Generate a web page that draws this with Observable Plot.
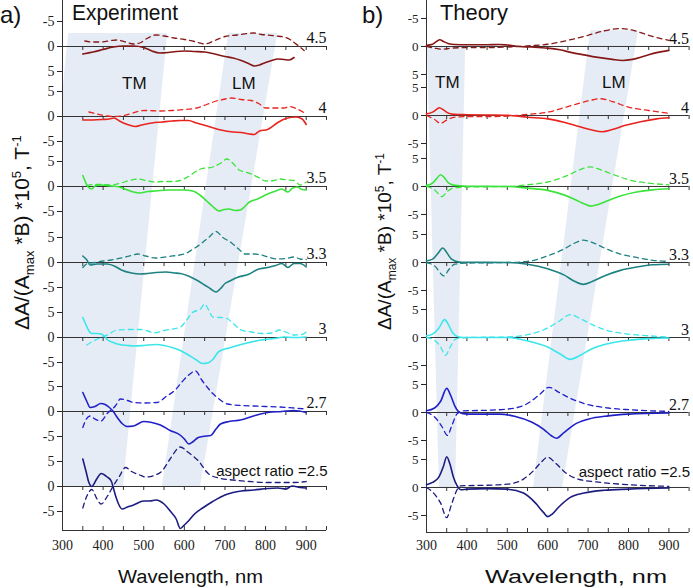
<!DOCTYPE html>
<html><head><meta charset="utf-8">
<script src="https://cdn.jsdelivr.net/npm/d3@7"></script>
<script src="https://cdn.jsdelivr.net/npm/@observablehq/plot@0.6"></script>
<style>
body{margin:0;background:#fff;}
#wrap{position:relative;width:693px;height:588px;overflow:hidden;background:#fff;}
#left{position:absolute;left:0;top:0;}
#right{position:absolute;left:345px;top:0;}
#over{position:absolute;left:0;top:0;pointer-events:none;}
</style></head>
<body><div id="wrap"><div id="left"></div><div id="right"></div>
<svg id="over" width="693" height="588" font-family="'Liberation Sans', Arial, sans-serif" fill="#111">
  <text x="0" y="23" font-size="24">a)</text>
  <text x="72" y="20" font-size="22" textLength="106" lengthAdjust="spacingAndGlyphs">Experiment</text>
  <text x="362" y="23" font-size="24">b)</text>
  <text x="440" y="20" font-size="22" textLength="68" lengthAdjust="spacingAndGlyphs">Theory</text>
  <text x="122" y="89" font-size="17">TM</text>
  <text x="232" y="89" font-size="17">LM</text>
  <text x="435" y="88" font-size="17">TM</text>
  <text x="602" y="88" font-size="17">LM</text>
  <text x="118" y="583" font-size="18" textLength="145" lengthAdjust="spacingAndGlyphs">Wavelength, nm</text>
  <text x="485" y="583" font-size="18" textLength="182" lengthAdjust="spacingAndGlyphs">Wavelength, nm</text>
  <text transform="translate(29,330) rotate(-90)" font-size="21">ΔA/(A<tspan font-size="13" dy="5">max</tspan><tspan dy="-5"> *B) *10</tspan><tspan font-size="13" dy="-8">5</tspan><tspan dy="8">, T</tspan><tspan font-size="13" dy="-8">-1</tspan></text>
  <text transform="translate(391,330) rotate(-90)" font-size="19">ΔA/(A<tspan font-size="12" dy="5">max</tspan><tspan dy="-5"> *B) *10</tspan><tspan font-size="12" dy="-7">5</tspan><tspan dy="7">, T</tspan><tspan font-size="12" dy="-7">-1</tspan></text>
</svg></div>
<script>
// ---- categories / labels ----
const ratios = ["4.5", "4", "3.5", "3.3", "3", "2.7", "2.5"];
const colors = ["#861717", "#e8241e", "#3be43b", "#1e8282", "#3ae6ea", "#2020c8", "#1c1c80"];
const xTickLabels = [300, 400, 500, 600, 700, 800, 900];
const yTickLabels = [["-5","0","5"],["5","0","-5"],["5","0","-5"],["5","0","-5"],["5","0","-5"],["5","0","-5"],["5","0","-5"]];

// ---- Experiment data [wavelength nm, value] ----
const exp45Solid = [[350,-1.5],[375,-1.1],[400,-0.6],[425,-0.1],[450,0.1],[475,0.1],[500,-0.2],[520,-0.9],[540,-1.3],[560,-1.2],[580,-1.0],[600,-0.9],[625,-1.0],[650,-1.1],[675,-1.5],[700,-2.0],[720,-2.3],[740,-2.8],[760,-3.5],[772,-3.9],[785,-3.7],[800,-3.2],[815,-2.8],[830,-2.5],[845,-2.6],[858,-2.7],[870,-2.2]];
const exp45Dash = [[355,1.1],[375,0.9],[395,0.9],[420,1.2],[435,1.3],[455,0.9],[475,0.5],[490,0.7],[510,1.7],[530,2.3],[550,2.1],[575,1.7],[600,1.4],[625,1.0],[650,0.5],[675,1.2],[700,2.0],[730,2.3],[755,2.6],[770,2.7],[790,2.4],[805,2.3],[825,2.1],[845,1.9],[860,1.4],[875,0.5],[895,-0.8]];
const exp4Solid = [[350,-0.7],[375,-0.7],[400,-0.6],[415,-0.5],[427,-0.3],[440,-0.9],[460,-1.6],[478,-2.0],[495,-1.7],[520,-1.3],[545,-1.1],[570,-0.9],[590,-0.8],[610,-0.8],[630,-1.3],[660,-2.0],[690,-2.7],[720,-3.1],[740,-3.2],[760,-3.5],[772,-3.6],[785,-2.9],[805,-2.6],[830,-1.2],[850,-0.4],[875,-0.1],[890,-0.5],[900,-1.6]];
const exp4Dash = [[365,0.9],[385,0.5],[410,0.1],[430,0.0],[450,0.2],[470,0.6],[490,1.1],[505,1.2],[540,1.1],[570,1.2],[600,1.4],[630,1.7],[655,2.4],[675,3.0],[700,3.5],[715,3.7],[740,3.4],[765,3.2],[785,2.5],[800,1.7],[825,1.7],[845,1.7],[860,2.0],[875,1.6],[900,0.5]];
const exp35Solid = [[350,2.2],[356,1.0],[362,0.0],[372,-0.5],[380,0.1],[395,0.3],[420,0.1],[440,-0.1],[460,-0.7],[475,-1.1],[490,-1.3],[510,-1.0],[530,-0.9],[560,-0.7],[580,-0.7],[600,-0.7],[620,-0.9],[640,-1.8],[655,-2.9],[670,-4.0],[685,-4.9],[698,-4.6],[710,-4.5],[725,-4.8],[738,-4.7],[750,-3.9],[760,-3.1],[780,-2.5],[805,-1.5],[825,-0.9],[840,-0.5],[855,-1.1],[865,-0.4],[878,-0.1],[890,-0.6],[900,-0.7]];
const exp35Dash = [[360,0.2],[380,0.4],[400,0.4],[420,0.3],[440,0.6],[465,1.2],[485,1.5],[505,1.2],[525,0.9],[550,1.0],[570,1.0],[590,1.2],[610,2.0],[640,3.5],[670,3.9],[690,4.7],[705,5.5],[720,4.6],[735,3.3],[750,2.9],[765,2.5],[785,1.7],[800,1.1],[820,1.2],[835,1.5],[855,1.3],[870,1.2],[885,0.3],[900,0.9]];
const exp33Solid = [[350,1.3],[360,0.5],[368,-0.5],[385,-0.3],[410,-0.3],[430,-0.8],[445,-1.5],[470,-2.1],[490,-2.3],[510,-2.2],[530,-2.0],[555,-1.9],[575,-2.1],[590,-2.2],[610,-2.7],[630,-3.5],[650,-4.5],[665,-5.3],[678,-5.9],[688,-5.3],[700,-4.2],[712,-3.7],[730,-3.0],[760,-2.3],[780,-1.4],[805,-1.0],[825,-0.6],[840,-0.2],[855,-1.0],[870,-0.2],[885,-0.2],[900,-0.9]];
const exp33Dash = [[350,-1.0],[362,-0.2],[380,0.0],[400,0.3],[420,0.5],[450,1.0],[470,1.4],[485,1.7],[505,1.3],[530,0.9],[560,1.2],[600,1.7],[620,2.6],[640,3.7],[660,5.0],[678,6.2],[695,5.0],[715,4.0],[735,2.6],[750,1.7],[770,1.7],[790,1.5],[810,1.0],[830,0.7],[850,0.8],[870,1.1],[885,0.7],[900,0.6]];
const exp3Solid = [[350,4.0],[358,2.5],[366,1.2],[372,0.8],[385,0.8],[395,0.7],[405,0.1],[410,-0.4],[425,-1.0],[440,-1.4],[460,-1.6],[475,-1.7],[500,-1.6],[530,-1.4],[550,-1.6],[570,-2.0],[590,-2.6],[610,-3.5],[628,-4.4],[645,-5.2],[658,-5.1],[670,-4.4],[685,-2.8],[710,-2.1],[735,-1.5],[760,-1.0],[790,-0.5],[800,-0.4],[830,-0.1],[845,0.1],[870,0.0],[900,0.1]];
const exp3Dash = [[360,-1.5],[378,-0.6],[395,0.0],[410,0.5],[435,1.5],[460,1.6],[490,1.6],[510,1.3],[525,0.9],[550,1.4],[590,2.1],[605,3.4],[620,5.0],[640,5.7],[650,6.7],[660,5.5],[670,4.1],[690,4.0],[705,3.8],[720,2.8],[740,1.5],[765,1.1],[790,0.8],[815,0.9],[835,1.5],[855,0.9],[870,0.5],[890,0.6],[900,1.1]];
const exp27Solid = [[350,3.8],[360,2.0],[368,0.8],[380,1.0],[394,1.6],[405,1.4],[414,0.9],[425,0.0],[435,-1.2],[448,-2.5],[459,-3.0],[475,-2.9],[500,-2.0],[520,-2.2],[541,-2.7],[565,-3.8],[591,-4.8],[600,-5.5],[611,-6.5],[622,-6.0],[632,-5.3],[645,-5.0],[665,-4.8],[677,-3.6],[689,-2.5],[710,-2.0],[738,-1.7],[770,-0.9],[805,-0.2],[840,0.0],[870,0.2],[900,-0.2]];
const exp27Dash = [[350,-3.2],[358,-1.6],[368,-0.9],[380,-1.5],[395,-1.9],[410,-0.4],[430,1.1],[443,2.5],[460,2.2],[476,1.8],[500,1.7],[533,1.8],[555,3.0],[575,4.1],[595,6.0],[608,7.1],[628,8.1],[642,6.4],[657,4.8],[670,3.6],[681,2.8],[706,1.5],[740,1.2],[770,1.1],[800,1.0],[835,0.9],[870,0.7],[900,0.5]];
const exp25Solid = [[350,5.5],[358,3.0],[365,0.8],[372,0.0],[385,1.6],[395,2.6],[410,1.9],[420,1.1],[426,-0.5],[432,-2.2],[447,-4.5],[460,-4.1],[475,-3.7],[500,-2.9],[515,-2.9],[530,-2.7],[550,-3.5],[565,-4.9],[580,-6.5],[590,-8.4],[600,-7.7],[610,-6.9],[625,-5.5],[645,-4.3],[670,-3.0],[700,-1.7],[720,-1.2],[740,-0.9],[770,-0.7],[805,-0.4],[830,-0.3],[850,-0.5],[865,0.1],[885,-0.2],[900,-0.3]];
const exp25Dash = [[350,-4.3],[360,-1.9],[372,-0.6],[385,-2.5],[395,-3.5],[410,-2.0],[425,0.1],[440,2.0],[455,3.8],[470,3.0],[490,2.3],[505,1.9],[525,2.2],[545,3.1],[565,5.5],[590,7.9],[610,6.8],[635,5.1],[660,2.5],[690,1.6],[720,1.3],[760,1.0],[805,0.8],[840,0.8],[870,0.8],[900,1.0]];

// ---- Theory data [wavelength nm, value] ----
const th45Solid = [[300,0.2],[315,0.4],[325,0.9],[333,1.2],[342,0.9],[355,0.5],[370,0.35],[400,0.3],[450,0.3],[480,0.35],[500,0.25],[530,0.0],[560,-0.1],[600,-0.3],[630,-0.6],[660,-1.1],[690,-1.5],[720,-1.9],[760,-2.3],[785,-2.5],[810,-2.3],[840,-1.7],[870,-1.1],[900,-0.7]];
const th45Dash = [[300,0.0],[320,-0.3],[340,-0.5],[360,-0.3],[400,-0.2],[450,-0.2],[500,-0.1],[550,0.1],[600,0.4],[650,1.1],[700,2.0],[740,2.8],[780,3.2],[810,2.9],[850,2.0],[880,1.4],[900,1.1]];
const th4Solid = [[300,0.3],[315,0.6],[325,1.1],[332,1.4],[342,1.0],[355,0.4],[370,0.2],[400,0.15],[450,0.1],[500,0.05],[550,-0.3],[600,-0.6],[640,-1.2],[680,-2.0],[710,-2.6],[735,-2.9],[760,-2.5],[790,-1.8],[830,-1.1],[870,-0.6],[900,-0.4]];
const th4Dash = [[300,0.0],[320,-0.7],[335,-1.4],[350,-0.8],[370,-0.3],[400,-0.2],[450,-0.2],[500,-0.1],[550,0.2],[600,0.6],[650,1.6],[700,2.6],[730,3.0],[760,2.5],[800,1.5],[850,0.9],[900,0.4]];
const th35Solid = [[300,0.2],[315,0.6],[325,1.4],[335,2.1],[345,1.5],[355,0.6],[370,0.2],[400,0.05],[500,0.0],[550,-0.3],[600,-0.7],[640,-1.5],[670,-2.4],[690,-3.1],[706,-3.5],[725,-3.2],[750,-2.5],[780,-1.7],[820,-1.0],[860,-0.6],[900,-0.4]];
const th35Dash = [[300,0.0],[320,-0.6],[338,-1.8],[350,-1.0],[365,-0.3],[400,-0.1],[500,0.0],[550,0.3],[600,0.8],[650,2.0],[680,3.0],[705,3.5],[730,3.0],[760,2.2],[800,1.2],[850,0.6],[900,0.3]];
const th33Solid = [[300,0.3],[315,0.6],[328,1.6],[340,2.6],[350,1.8],[362,0.6],[380,0.1],[400,0.05],[500,0.0],[550,-0.3],[600,-1.1],[640,-2.2],[665,-3.3],[688,-3.9],[710,-3.4],[740,-2.4],[780,-1.4],[820,-0.8],[860,-0.4],[900,-0.3]];
const th33Dash = [[300,0.0],[320,-0.6],[343,-2.4],[355,-1.3],[370,-0.3],[400,-0.1],[500,0.0],[550,0.2],[600,1.2],[640,2.4],[665,3.4],[688,4.0],[710,3.6],[740,2.6],[780,1.5],[820,0.9],[860,0.4],[900,0.2]];
const th3Solid = [[300,0.3],[315,0.6],[330,1.6],[345,3.2],[355,2.2],[365,0.8],[380,0.1],[400,0.0],[500,0.0],[550,-0.6],[600,-1.7],[630,-2.9],[656,-3.9],[680,-3.2],[710,-2.0],[750,-1.1],[800,-0.5],[850,-0.2],[900,-0.1]];
const th3Dash = [[300,0.0],[320,-0.5],[335,-1.7],[347,-3.2],[358,-1.8],[372,-0.3],[400,0.0],[500,0.1],[550,0.5],[600,1.7],[630,3.0],[656,4.1],[680,3.4],[710,2.3],[750,1.2],[800,0.6],[850,0.3],[900,0.1]];
const th27Solid = [[300,0.3],[320,0.8],[335,2.0],[350,4.3],[360,3.0],[370,1.2],[380,0.1],[390,-0.2],[420,-0.3],[480,-0.3],[520,-0.7],[560,-1.7],[590,-3.0],[610,-4.2],[622,-4.6],[640,-3.6],[665,-2.2],[700,-1.2],[750,-0.6],[800,-0.3],[900,-0.1]];
const th27Dash = [[300,0.0],[320,-0.8],[338,-2.5],[352,-4.1],[362,-2.5],[375,-0.3],[390,0.3],[450,0.4],[500,0.6],[550,1.6],[580,3.2],[603,4.5],[630,3.5],[660,2.4],[700,1.4],[750,0.8],[800,0.5],[900,0.2]];
const th25Solid = [[300,0.5],[315,0.9],[330,1.8],[342,3.8],[350,5.5],[358,4.2],[366,2.0],[375,0.4],[385,-0.4],[400,-0.3],[450,-0.2],[500,-0.3],[540,-1.0],[570,-2.8],[590,-4.5],[600,-5.2],[612,-4.7],[630,-3.3],[655,-1.8],[690,-1.0],[740,-0.5],[800,-0.3],[900,-0.1]];
const th25Dash = [[300,0.0],[320,-1.2],[335,-2.8],[350,-5.4],[362,-3.0],[375,-0.5],[385,0.3],[450,0.4],[500,0.6],[540,1.5],[565,3.0],[585,4.6],[600,5.4],[620,4.3],[645,2.6],[675,1.5],[720,1.0],[800,0.5],[900,0.2]];

// ---- shaded TM / LM bands (wavelength edges at top and bottom of the stack) ----
const expBandTM = [{y:"top", x1:315, x2:559}, {y:"bottom", x1:206, x2:450}];
const expBandLM = [{y:"top", x1:709, x2:830}, {y:"bottom", x1:546, x2:640}];
const thBandTM = [{y:"tmTop", x1:302, x2:397}, {y:"bottom", x1:332, x2:372}];
const thBandLM = [{y:"top", x1:706, x2:825}, {y:"bottom", x1:565, x2:637}];

// ---- layout (stack offsets in value units) ----
const leftLayout = {offsets:[96.8,82.8,68.8,53.6,38.6,23.8,8.8], yMax:106, bandY:{top:99.4, bottom:8.8}, tickLen:0.8,
  width:345, marginLeft:62, marginRight:19, marginBottom:58, xPad:10, labelDy:-9, yFont:14};
const rightLayout = {offsets:[86.79,74.46,61.79,48.21,34.82,21.43,8.04], yMax:95.0, bandY:{top:89.6, tmTop:86.79, bottom:8.04}, tickLen:0.72,
  width:348, marginLeft:81, marginRight:4.4, marginBottom:56, xPad:8, labelDy:-8, yFont:13};

const SERIF = "'Liberation Serif', 'DejaVu Serif', 'Times New Roman', serif";
const SANS = "'Liberation Sans', Arial, sans-serif";

function build(L, solids, dashes, bands, curve) {
  const off = L.offsets;
  const tickWl = d3.range(350, 951, 50);
  const yTicks = [], yMap = new Map();
  off.forEach((o, i) => {
    [o + 5, o, o - 5].forEach((p, j) => { yTicks.push(p); yMap.set(p, yTickLabels[i][j]); });
  });
  const zeroTicks = off.flatMap(o => tickWl.map(w => ({x: w, y1: o, y2: o - L.tickLen})));
  const bottomTicks = tickWl.map(w => ({x: w, y1: 0, y2: L.tickLen}));
  const marks = [];
  bands.forEach(b => marks.push(Plot.areaX(b, {y: d => L.bandY[d.y], x1: "x1", x2: "x2", fill: "#e6ecf5", clip: true, curve: "linear"})));
  marks.push(Plot.ruleY(off, {stroke: "#333", strokeWidth: 1}));
  marks.push(Plot.ruleX(zeroTicks, {x: "x", y1: "y1", y2: "y2", stroke: "#333", strokeWidth: 1}));
  marks.push(Plot.ruleY([0], {stroke: "#333", strokeWidth: 1}));
  marks.push(Plot.ruleX(bottomTicks, {x: "x", y1: "y1", y2: "y2", stroke: "#333", strokeWidth: 1}));
  marks.push(Plot.ruleX([300], {stroke: "#333", strokeWidth: 1}));
  marks.push(Plot.axisY({ticks: yTicks, tickFormat: d => yMap.get(d), tickSize: 5, tickPadding: 3, label: null, fontSize: L.yFont}));
  marks.push(Plot.axisX({ticks: xTickLabels, tickFormat: d => String(d), tickSize: 0, tickPadding: L.xPad, label: null, fontSize: 14}));
  dashes.forEach((s, i) => marks.push(Plot.line(s, {x: d => d[0], y: d => off[i] + d[1], stroke: colors[i], strokeWidth: 1.3, strokeDasharray: "5,4", curve})));
  solids.forEach((s, i) => marks.push(Plot.line(s, {x: d => d[0], y: d => off[i] + d[1], stroke: colors[i], strokeWidth: 1.6, curve})));
  marks.push(Plot.text(ratios.slice(0, 6), {x: () => 950, y: (d, i) => off[i], text: d => d, dy: L.labelDy, textAnchor: "end", fontSize: 16, fill: "#111"}));
  marks.push(Plot.text(["aspect ratio =2.5"], {x: () => 950, y: () => off[6], text: d => d, dy: -15, dx: 1, textAnchor: "end", fontSize: 15, fill: "#111"}));
  const svg = Plot.plot({
    width: L.width, height: 588,
    marginLeft: L.marginLeft, marginRight: L.marginRight, marginTop: 0, marginBottom: L.marginBottom,
    x: {type: "linear", domain: [300, 950]},
    y: {type: "linear", domain: [0, L.yMax]},
    style: {background: "transparent", color: "#222", overflow: "visible"},
    marks
  });
  // typeface: serif for numbers, sans for the "aspect ratio" note
  svg.querySelectorAll("g, text").forEach(el => el.removeAttribute("font-family"));
  svg.querySelectorAll("text").forEach(t => {
    const fam = (t.textContent || "").indexOf("aspect") >= 0 ? SANS : SERIF;
    t.setAttribute("font-family", fam);
    t.style.fontFamily = fam;
  });
  return svg;
}

const expSolids = [exp45Solid, exp4Solid, exp35Solid, exp33Solid, exp3Solid, exp27Solid, exp25Solid];
const expDashes = [exp45Dash, exp4Dash, exp35Dash, exp33Dash, exp3Dash, exp27Dash, exp25Dash];
const thSolids = [th45Solid, th4Solid, th35Solid, th33Solid, th3Solid, th27Solid, th25Solid];
const thDashes = [th45Dash, th4Dash, th35Dash, th33Dash, th3Dash, th27Dash, th25Dash];

document.getElementById("left").appendChild(build(leftLayout, expSolids, expDashes, [expBandTM, expBandLM], "monotone-x"));
document.getElementById("right").appendChild(build(rightLayout, thSolids, thDashes, [thBandTM, thBandLM], "monotone-x"));
</script></body></html>
